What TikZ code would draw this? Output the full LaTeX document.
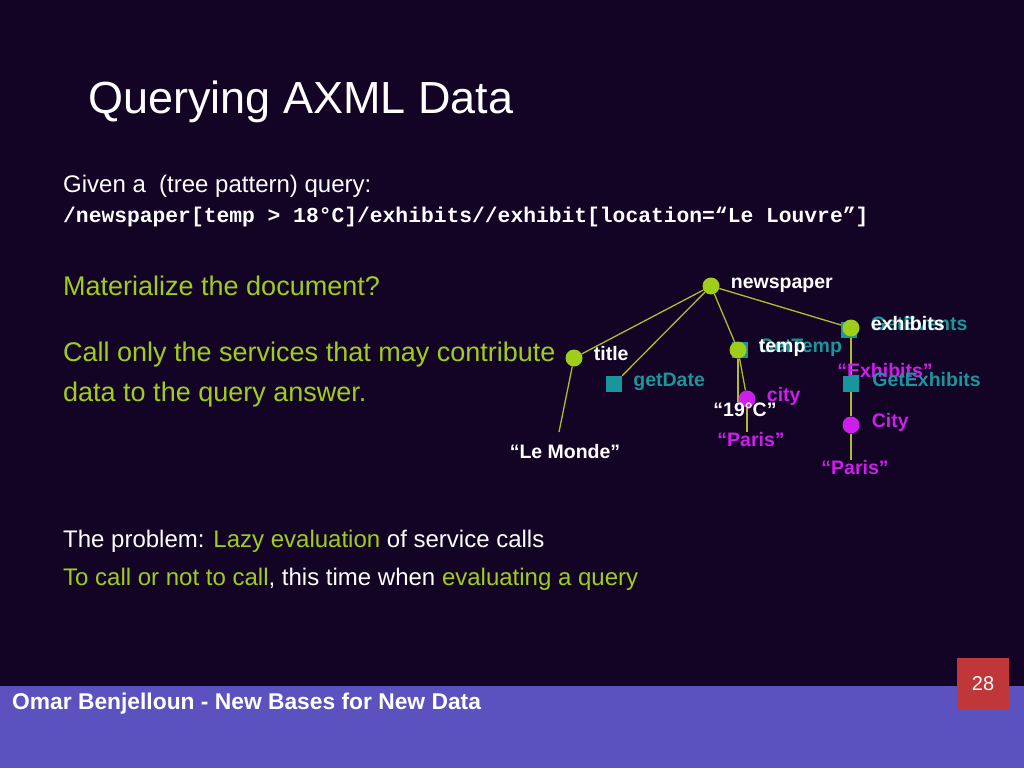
\documentclass[tikz,border=0pt]{standalone}
\usepackage{fontspec}
\setmainfont{Liberation Sans}
\newfontfamily\codefont{Liberation Mono}
\usepackage{xcolor}
\usepackage{tikz}
\usetikzlibrary{positioning,backgrounds}
\definecolor{slidebg}{RGB}{19,4,38}
\definecolor{footbg}{RGB}{91,81,191}
\definecolor{lime}{RGB}{160,205,25}
\definecolor{edgeol}{RGB}{178,185,50}
\definecolor{svcteal}{RGB}{25,150,155}
\definecolor{valmag}{RGB}{205,30,235}
\definecolor{pagered}{RGB}{192,55,58}

\begin{document}
\begin{tikzpicture}[x=1pt,y=-1pt,
  txt/.style={anchor=base west,inner sep=0pt,text=white,font=\fontsize{27}{32}\selectfont},
  el/.style={circle,fill=lime,minimum size=17pt,inner sep=0pt},
  val/.style={circle,fill=valmag,minimum size=17pt,inner sep=0pt},
  svc/.style={rectangle,fill=svcteal,minimum size=16pt,inner sep=0pt},
  lbl/.style={font=\fontsize{19.5}{22}\selectfont\bfseries,inner sep=1pt,yshift=-2pt},
  leaf/.style={font=\fontsize{19.5}{22}\selectfont\bfseries,inner sep=1pt},
  edge/.style={draw=edgeol,line width=1.3pt}]
% slide
\useasboundingbox (0,0) rectangle (1024,768);
\node[txt,font=\fontsize{45}{52}\selectfont] (title) at (88,113) {Querying AXML Data};
\node[txt,font=\fontsize{24}{28}\selectfont] (given) at (63,192) {Given a\ \ (tree pattern) query:};
\node[txt,font=\fontsize{21.3}{24}\codefont\bfseries] (query) at (63,222) {/newspaper[temp > 18°C]/exhibits//exhibit[location=“Le Louvre”]};
\node[txt,text=lime] (mat) at (63,295) {Materialize the document?};
\node[txt,text=lime] (call) at (63,361) {Call only the services that may contribute};
\node[txt,text=lime] (data) at (63,401) {data to the query answer.};
\node[txt,font=\fontsize{24}{28}\selectfont] (prob) at (63,547) {The problem: \textcolor{lime}{Lazy evaluation} of service calls};
\node[txt,font=\fontsize{24}{28}\selectfont] (tocall) at (63,585) {\textcolor{lime}{To call or not to call}, this time when \textcolor{lime}{evaluating a query}};
% tree
\node[el] (np) at (711,286) {};
\node[lbl,white,base right=10pt of np] (nplbl) {newspaper};
\node[el] (ti) at (574,358) {};
\node[lbl,white,base right=10pt of ti] (tilbl) {title};
\node[leaf,white] (lm) at (565,452) {“Le Monde”};
\coordinate (lmtop) at (559,432);
\node[svc] (gd) at (614,384) {};
\node[lbl,svcteal,base right=10pt of gd] (gdlbl) {getDate};
\node[svc] (gt) at (740,350) {};
\node[el] (tp) at (738,350) {};
\node[lbl,svcteal,base right=11pt of tp] (gtlbl) {GetTemp};
\node[lbl,white,base right=11pt of tp] (tplbl) {temp};
\node[val] (cy) at (747,399) {};
\node[lbl,valmag,base right=10pt of cy] (cylbl) {city};
\node[leaf,white] (deg) at (745,410) {“19°C”};
\node[leaf,valmag] (pa1) at (751,440) {“Paris”};
\node[svc] (gv) at (849,330) {};
\node[el] (ex) at (851,328) {};
\node[lbl,svcteal,base right=10pt of ex] (gvlbl) {GetEvents};
\node[lbl,white,base right=10pt of ex] (exlbl) {exhibits};
\node[leaf,valmag] (exv) at (885,371) {“Exhibits”};
\node[svc] (gx) at (851,384) {};
\node[lbl,svcteal,base right=12pt of gx] (gxlbl) {GetExhibits};
\node[val] (cz) at (851,425) {};
\node[lbl,valmag,base right=11pt of cz] (czlbl) {City};
\node[leaf,valmag] (pa2) at (855,468) {“Paris”};
\begin{scope}[on background layer]
\fill[slidebg] (0,0) rectangle (1024,768);
\fill[footbg] (0,686) rectangle (1024,768);
\draw[edge] (np) -- (ti);
\draw[edge] (np) -- (gd);
\draw[edge] (np) -- (tp);
\draw[edge] (np) -- (ex);
\draw[edge] (ti) -- (lmtop);
\draw[edge] (tp) -- (tp |- deg.north);
\draw[edge] (tp) -- (cy);
\draw[edge] (cy) -- (cy |- pa1.north);
\draw[edge,draw=lime,line width=2.5pt] (ex) -- (ex |- exv.center);
\draw[edge] (ex) -- (gx);
\draw[edge] (gx) -- (cz);
\draw[edge] (cz) -- (cz |- pa2.north);
\end{scope}
% footer
\node[txt,font=\fontsize{22.8}{26}\selectfont\bfseries] (foot) at (12,709) {Omar Benjelloun - New Bases for New Data};
\node[fill=pagered,minimum width=52pt,minimum height=52pt,text=white,font=\fontsize{20}{24}\selectfont] (page) at (983,684) {28};
\end{tikzpicture}
\end{document}
